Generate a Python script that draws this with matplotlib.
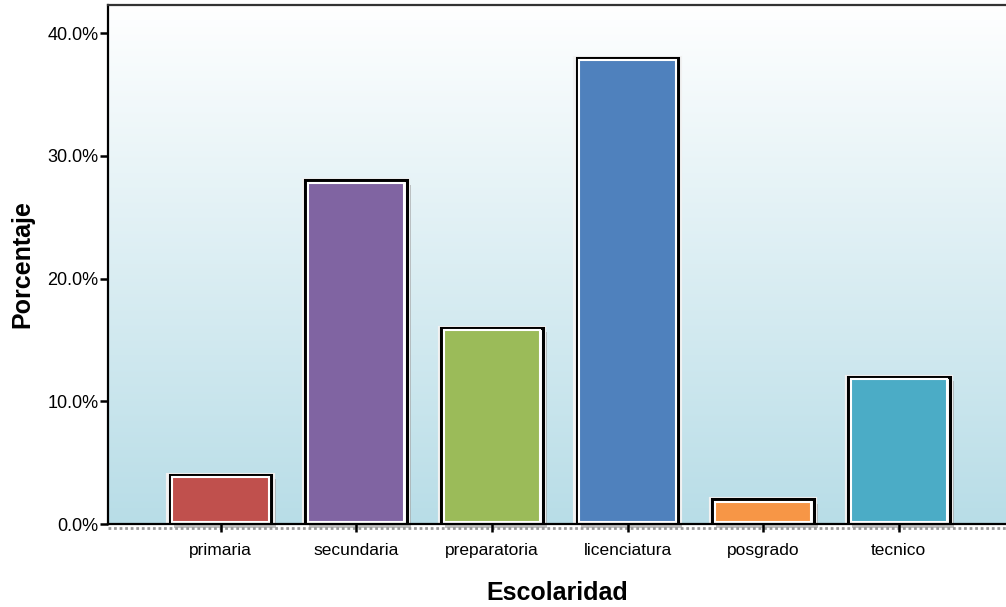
import numpy as np
import matplotlib.pyplot as plt
from matplotlib.colors import LinearSegmentedColormap
from matplotlib.ticker import FuncFormatter

plt.rcParams['font.family'] = ['Liberation Sans', 'DejaVu Sans']

# --- Data ---
categorias = ['primaria', 'secundaria', 'preparatoria', 'licenciatura', 'posgrado', 'tecnico']
porcentajes = [4.0, 28.0, 16.0, 38.0, 2.0, 12.0]
colores = ['#C0504D', '#8064A2', '#9BBB59', '#4F81BD', '#F79646', '#4BACC6']

fig = plt.figure(figsize=(10.06, 6.07), dpi=100)
ax = fig.add_axes([0.1074, 0.1367, 0.8926, 0.8551])

x = np.arange(len(categorias))
ax.set_xlim(-0.83, 5.79)
ax.set_ylim(0, 42.3)

# gradient background (white top -> light blue bottom)
cmap = LinearSegmentedColormap.from_list('bg', ['#B8DDE7', '#FFFFFF'])
grad = np.linspace(0, 1, 256).reshape(-1, 1)
ax.imshow(grad, aspect='auto', cmap=cmap, origin='lower',
          extent=[-0.83, 5.79, 0, 42.3], zorder=0)

w = 0.75
# shadows
ax.bar(x + 0.03, porcentajes, width=w, bottom=-0.35, color='#9A9A9A', alpha=0.6,
       zorder=1, linewidth=0, clip_on=False)
# white halo
ax.bar(x, porcentajes, width=w + 0.02, color='#F2F2F2', edgecolor='#F2F2F2',
       linewidth=3, zorder=2)
# black outline
ax.bar(x, porcentajes, width=w, color='white', edgecolor='black', linewidth=2.2, zorder=3)
# colored fill with white inner border
ax.bar(x, np.array(porcentajes) - 0.35, width=w - 0.04, bottom=0.15, color=colores,
       edgecolor='white', linewidth=1.5, zorder=4)

# dotted shadow under the baseline
ax.axhline(-0.3, color='#999999', linewidth=2, linestyle=(0, (1, 1)),
           clip_on=False, zorder=1)

ax.set_xticks(x)
ax.set_xticklabels(categorias, fontsize=12.5)
ax.set_yticks([0, 10, 20, 30, 40])
ax.yaxis.set_major_formatter(FuncFormatter(lambda v, p: f'{v:.1f}%'))
ax.tick_params(axis='y', labelsize=13, length=6, width=1.8, pad=1)
ax.tick_params(axis='x', length=6, width=1.8, pad=8)

for s in ['left', 'bottom', 'top']:
    ax.spines[s].set_linewidth(1.6)
ax.spines['right'].set_visible(False)
ax.spines['top'].set_color('#333333')
ax.spines['bottom'].set_zorder(5)

ax.set_xlabel('Escolaridad', fontsize=18, fontweight='bold', labelpad=16)
ax.set_ylabel('Porcentaje', fontsize=18, fontweight='bold', labelpad=9)

fig.savefig('out.png', dpi=100)
